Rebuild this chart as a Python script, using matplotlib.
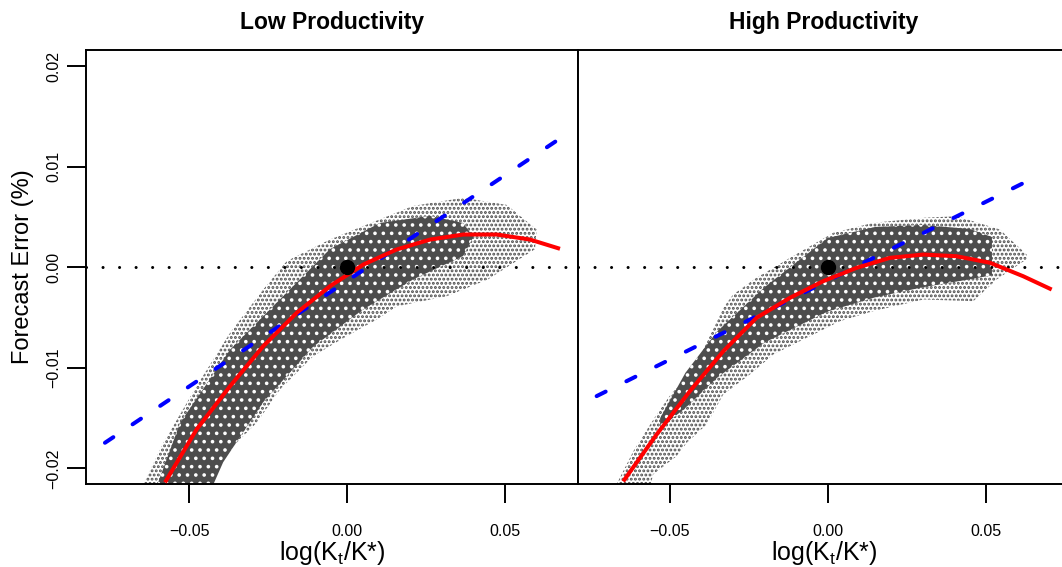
import matplotlib
matplotlib.use('Agg')
import matplotlib.pyplot as plt
import numpy as np

plt.rcParams['font.family'] = ['Liberation Sans', 'DejaVu Sans']
plt.rcParams['mathtext.fontset'] = 'custom'
plt.rcParams['mathtext.rm'] = 'Liberation Sans'
plt.rcParams['mathtext.it'] = 'Liberation Sans:italic'
plt.rcParams['hatch.linewidth'] = 1.4

titles = ['Low Productivity', 'High Productivity']

# red curve (fitted rule)
red_x_low = [-0.0576, -0.0476, -0.0370, -0.0265, -0.0159, -0.0054, 0.0052, 0.0157,
             0.0263, 0.0368, 0.0474, 0.0579, 0.0674]
red_y_low = [-0.0214, -0.01613, -0.01183, -0.00785, -0.00453, -0.00189, 0.00027, 0.00176,
             0.00275, 0.00325, 0.00325, 0.00275, 0.00183]
red_x_high = [-0.0647, -0.0541, -0.0436, -0.0330, -0.0225, -0.0119, -0.0014, 0.0092,
              0.0197, 0.0303, 0.0408, 0.0514, 0.0619, 0.0709]
red_y_high = [-0.0213, -0.01663, -0.01233, -0.00835, -0.00503, -0.00304, -0.00139, -0.00006,
              0.00093, 0.00126, 0.00109, 0.00044, -0.0009, -0.00222]

# blue dashed line (linear rule), end points
blue_x_low = [-0.0766, 0.0674]
blue_y_low = [-0.01746, 0.0128]
blue_x_high = [-0.0731, 0.0663]
blue_y_high = [-0.01282, 0.00905]

# simulated points: outer envelope of the cloud
cloud_up_x_low = [-0.0645, -0.0581, -0.0476, -0.0370, -0.0265, -0.0191, -0.0054, 0.0052,
                  0.0210, 0.0368, 0.0505, 0.0600, 0.0595]
cloud_up_y_low = [-0.0216, -0.01746, -0.01183, -0.00652, -0.00222, 0.0006, 0.00275, 0.0041,
                  0.0061, 0.0069, 0.0062, 0.00375, 0.0018]
cloud_lo_x_low = [-0.0465, -0.0423, -0.0370, -0.0286, -0.0212, -0.0107, -0.0001, 0.0094,
                  0.0157, 0.0316, 0.0447]
cloud_lo_y_low = [-0.0216, -0.0201, -0.0181, -0.01547, -0.01216, -0.00885, -0.00686, -0.0052,
                  -0.0039, -0.00288, -0.0012]

cloud_up_x_high = [-0.0668, -0.0615, -0.0541, -0.0489, -0.0436, -0.0330, -0.0299, -0.0225,
                   -0.0119, 0.0018, 0.0144, 0.0303, 0.0408, 0.0545, 0.0630, 0.0630]
cloud_up_y_high = [-0.0216, -0.0183, -0.01464, -0.01233, -0.0110, -0.00404, -0.00271, -0.00105,
                   0.00093, 0.00342, 0.00441, 0.00491, 0.00507, 0.00375, 0.00126, 0.0008]
cloud_lo_x_high = [-0.0560, -0.0552, -0.0478, -0.0446, -0.0383, -0.0330, -0.0246, -0.0172,
                   -0.0066, 0.0039, 0.0144, 0.0303, 0.0461, 0.0535]
cloud_lo_y_high = [-0.0216, -0.0206, -0.01879, -0.01746, -0.01564, -0.01265, -0.01067, -0.00868,
                   -0.00702, -0.00537, -0.00437, -0.00321, -0.00338, -0.00122]

# dense core of the cloud
core_up_x_low = [-0.0600, -0.0528, -0.0370, -0.0212, -0.0054, 0.0104, 0.0263, 0.0367, 0.0400]
core_up_y_low = [-0.0216, -0.01546, -0.0082, -0.0032, 0.0018, 0.0044, 0.0051, 0.0044, 0.0030]
core_lo_x_low = [-0.0423, -0.0392, -0.0266, -0.0107, 0.0051, 0.0210, 0.0367]
core_lo_y_low = [-0.0216, -0.0194, -0.01345, -0.0079, -0.0042, -0.0012, 0.0011]

core_up_x_high = [-0.0530, -0.0450, -0.0350, -0.0200, 0.0000, 0.0150, 0.0300, 0.0450, 0.0520]
core_up_y_high = [-0.0150, -0.0105, -0.0064, -0.0020, 0.0029, 0.0040, 0.0042, 0.0038, 0.0030]
core_lo_x_high = [-0.0530, -0.0450, -0.0350, -0.0200, 0.0000, 0.0150, 0.0300, 0.0450, 0.0520]
core_lo_y_high = [-0.0160, -0.0140, -0.0110, -0.0075, -0.0044, -0.0030, -0.0020, -0.0012, -0.0008]

xlims = [(-0.0826, 0.0731), (-0.0790, 0.0767)]
ylim = (-0.02156, 0.0216)

fig = plt.figure(figsize=(10.62, 5.67), dpi=100)
W, H = 1062.0, 567.0
ax_low = fig.add_axes([86 / W, 83 / H, 492 / W, 434 / H])
ax_high = fig.add_axes([578 / W, 83 / H, 492 / W, 434 / H])

panels = [
    (ax_low, red_x_low, red_y_low, blue_x_low, blue_y_low,
     cloud_up_x_low, cloud_up_y_low, cloud_lo_x_low, cloud_lo_y_low,
     core_up_x_low, core_up_y_low, core_lo_x_low, core_lo_y_low),
    (ax_high, red_x_high, red_y_high, blue_x_high, blue_y_high,
     cloud_up_x_high, cloud_up_y_high, cloud_lo_x_high, cloud_lo_y_high,
     core_up_x_high, core_up_y_high, core_lo_x_high, core_lo_y_high),
]

grey = '#4d4d4d'
for i, (ax, rx, ry, bx, by, ux, uy, lx, ly, cux, cuy, clx, cly) in enumerate(panels):
    # point cloud: sparse rim as grey specks, dense core as grey with white gaps
    ax.fill(np.r_[ux, lx[::-1]], np.r_[uy, ly[::-1]], facecolor='white',
            edgecolor=grey, hatch='....', linewidth=0, zorder=1)
    ax.fill(np.r_[cux, clx[::-1]], np.r_[cuy, cly[::-1]], facecolor=grey,
            edgecolor='white', hatch='..', linewidth=0, zorder=2)
    ax.axhline(0, color='black', linewidth=2.2, linestyle=(0, (0.01, 5.4)),
               dash_capstyle='round', zorder=3)
    ax.plot(bx, by, color='#0000ff', linewidth=2.9, linestyle=(0, (2.5, 5.75)),
            dash_capstyle='round', zorder=4)
    ax.plot(rx, ry, color='#ff0000', linewidth=2.9, solid_capstyle='butt', zorder=5)
    ax.plot([0], [0], 'o', color='black', markersize=10, zorder=6)

    ax.set_xlim(*xlims[i])
    ax.set_ylim(*ylim)
    ax.set_xticks([-0.05, 0.0, 0.05])
    ax.set_xticklabels(['\u22120.05', '0.00', '0.05'])
    ax.tick_params(axis='x', length=13.5, width=1.4, pad=15, labelsize=11.5)
    ax.set_xlabel('log(K$_\\mathrm{t}$/K*)', fontsize=18)
    ax.xaxis.set_label_coords(0.5, -0.127)
    ax.set_title(titles[i], fontsize=16.5, fontweight='bold', pad=15)
    for s in ax.spines.values():
        s.set_linewidth(1.4)

ax_low.set_yticks([-0.02, -0.01, 0.0, 0.01, 0.02])
ax_low.set_yticklabels(['\u22120.02', '\u22120.01', '0.00', '0.01', '0.02'],
                       rotation=90, va='center')
ax_low.tick_params(axis='y', length=13.5, width=1.4, pad=4, labelsize=11.5)
ax_low.set_ylabel('Forecast Error (%)', fontsize=17)
ax_low.yaxis.set_label_coords(-0.106, 0.5)

ax_high.set_yticks([])
ax_high.spines['left'].set_zorder(10)

fig.savefig('out.png', dpi=100)
